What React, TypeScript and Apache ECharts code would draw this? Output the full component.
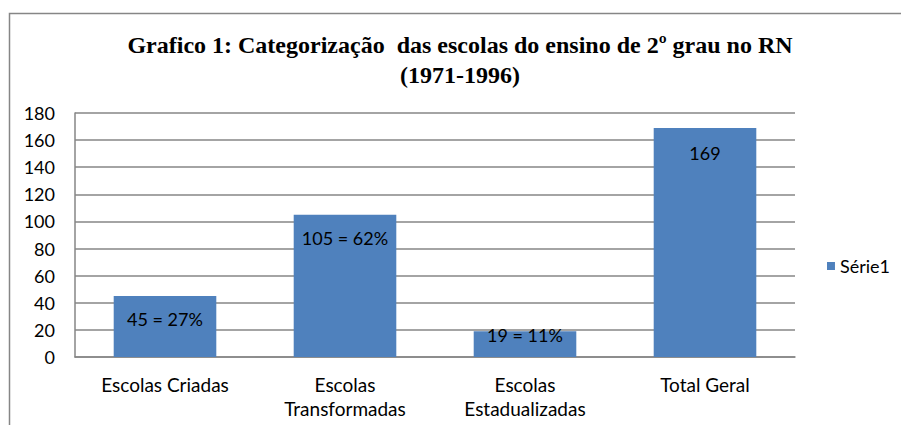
import React, { useEffect, useRef } from "react";
import * as echarts from "echarts";

const categories = ["Escolas Criadas", "Escolas\nTransformadas", "Escolas\nEstadualizadas", "Total Geral"];
const values = [45, 105, 19, 169];
const labels = ["45 = 27%", "105 = 62%", "19 = 11%", "169"];
const labelDistances = [14, 14, -5, 16];
const seriesName = "Série1";
const titleText = "Grafico 1: Categorização  das escolas do ensino de 2º grau no RN\n(1971-1996)";

export default function App() {
  const ref = useRef<HTMLDivElement>(null);
  useEffect(() => {
    const chart = echarts.init(ref.current!, null, { renderer: "svg" });
    chart.setOption({
      animation: false,
      backgroundColor: "#ffffff",
      title: {
        text: titleText,
        left: 455,
        textAlign: "center",
        top: 25,
        textStyle: {
          fontFamily: "Liberation Serif",
          fontWeight: "bold",
          fontSize: 24,
          lineHeight: 30,
          color: "#000",
        },
      },
      graphic: [
        {
          type: "rect",
          shape: { x: 9.5, y: 13.5, width: 920, height: 440 },
          style: { fill: "none", stroke: "#868686", lineWidth: 1.5 },
          silent: true,
        },
      ],
      legend: {
        right: 6,
        top: 252,
        orient: "vertical",
        itemWidth: 8,
        itemHeight: 8,
        itemGap: 5,
        icon: "rect",
        textStyle: { fontFamily: "Lato", fontSize: 18, color: "#000" },
        data: [seriesName],
      },
      grid: { left: 75, right: 106, top: 113, bottom: 68, containLabel: false },
      xAxis: {
        type: "category",
        data: categories,
        axisLine: { lineStyle: { color: "#868686", width: 1.5 } },
        axisTick: { show: false },
        axisLabel: {
          fontFamily: "Lato",
          fontSize: 19,
          color: "#000",
          lineHeight: 24,
          margin: 15,
          interval: 0,
        },
      },
      yAxis: {
        type: "value",
        min: 0,
        max: 180,
        interval: 20,
        axisLine: { show: true, lineStyle: { color: "#868686", width: 1.5 } },
        axisTick: { show: false },
        splitLine: { lineStyle: { color: "#868686", width: 1.5 } },
        axisLabel: { fontFamily: "Lato", fontSize: 18, color: "#000", margin: 20 },
      },
      series: [
        {
          name: seriesName,
          type: "bar",
          data: values.map((v, i) => ({ value: v, label: { distance: labelDistances[i] } })),
          barWidth: "57%",
          itemStyle: { color: "#4F81BD" },
          label: {
            show: true,
            position: "insideTop",
            distance: 14,
            fontFamily: "Lato",
            fontSize: 18,
            color: "#000",
            formatter: (p: any) => labels[p.dataIndex],
          },
        },
      ],
    });
    return () => chart.dispose();
  }, []);
  return <div ref={ref} style={{ position: "fixed", left: 0, top: 0, width: 901, height: 425 }} />;
}
